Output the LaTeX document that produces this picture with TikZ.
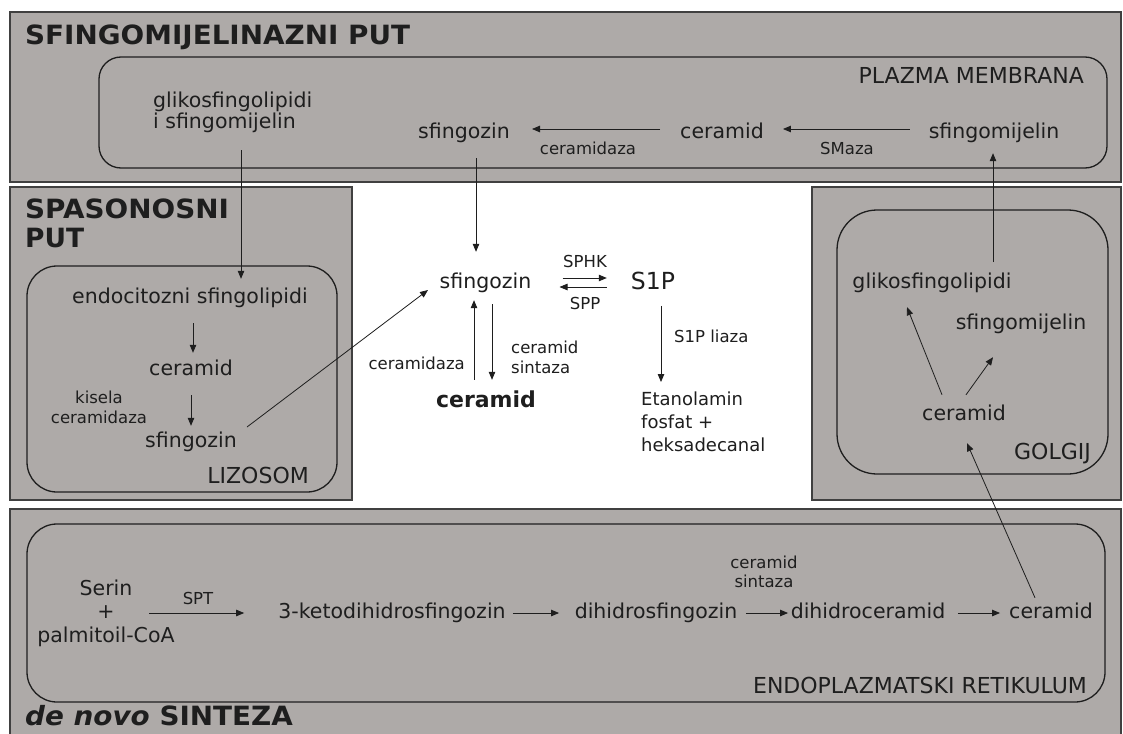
\documentclass[tikz,border=0pt]{standalone}
\usepackage{fontspec}
\setmainfont{DejaVu Sans}
\usetikzlibrary{arrows.meta}
\definecolor{boxgrey}{HTML}{AEAAA8}
\definecolor{ink}{HTML}{1E1E1E}
\tikzset{
 outerbox/.style={draw=ink!85, line width=1.5pt, fill=boxgrey},
 cellbox/.style={draw=ink, line width=1.3pt, rounded corners=22pt},
 txt/.style={font=\fontsize{20.5}{21.5}\selectfont, text=ink, inner sep=1pt, text height=15.5pt, text depth=4.5pt},
 caplabel/.style={font=\fontsize{22}{26}\selectfont, text=ink, inner sep=1pt},
 small/.style={font=\fontsize{16.5}{19.5}\selectfont, text=ink, inner sep=1pt},
 title/.style={font=\fontsize{26.5}{29}\selectfont\bfseries, text=ink, inner sep=0pt, anchor=west},
 arr/.style={-{Triangle[length=8pt,width=6.5pt]}, line width=0.8pt, draw=ink},
}
\begin{document}
\begin{tikzpicture}[x=1pt,y=-1pt]
\useasboundingbox (0,0) rectangle (1123,733);
\fill[white] (0,0) rectangle (1123,733);
% outer boxes
\draw[outerbox] (10,12) rectangle (1121,182);
\draw[outerbox] (10,187) rectangle (352,500);
\draw[outerbox] (812,187) rectangle (1121,500);
\draw[outerbox] (10,509) rectangle (1121,745);
% compartments
\draw[cellbox] (99,57) rectangle (1107,168);
\draw[cellbox, rounded corners=30pt] (27,266) rectangle (337,492);
\draw[cellbox, rounded corners=40pt] (837,210) rectangle (1108,474);
\draw[cellbox, rounded corners=30pt] (27,524) rectangle (1105,702);
% titles
\node[title] (t1) at (25,37) {\scalebox{1.05}[1]{SFINGOMIJELINAZNI PUT}};
\node[title, align=left] (t2) at (25,223.5) {\scalebox{1.05}[1]{SPASONOSNI}\\PUT};
\node[title] (t4) at (25,716) {\scalebox{1.05}[1]{\textit{de novo} SINTEZA}};
% compartment labels
\node[caplabel, anchor=east] (lpm) at (1085,75) {PLAZMA MEMBRANA};
\node[caplabel, anchor=east] (lliz) at (310,475) {LIZOSOM};
\node[caplabel, anchor=east] (lgol) at (1092,454) {GOLGIJ};
\node[caplabel, anchor=east] (ler) at (1088,685) {ENDOPLAZMATSKI RETIKULUM};
% plasma membrane
\node[txt, align=left, anchor=west, text height=, text depth=] (pmgs) at (152,112.5) {glikosfingolipidi\\i sfingomijelin};
\node[txt] (pmsf) at (464,133) {sfingozin};
\node[txt] (pmcer) at (722,133) {ceramid};
\node[txt] (pmsm) at (994,133) {sfingomijelin};
\draw[arr, shorten <=19pt, shorten >=21pt] ([yshift=4pt]pmcer.west) -- ([yshift=4pt]pmsf.east);
\draw[arr, shorten <=18pt, shorten >=18pt] ([yshift=4pt]pmsm.west) -- ([yshift=4pt]pmcer.east);
\node[small] (lcd1) at (588,148) {ceramidaza};
\node[small] (lsma) at (847,148) {SMaza};
% centre
\node[txt] (sf) at (485.5,283) {sfingozin};
\node[font=\fontsize{23.5}{27}\selectfont, text=ink, inner sep=1pt, text height=17.5pt, text depth=5pt] (s1p) at (653,283) {S1P};
\node[font=\fontsize{22}{26}\selectfont\bfseries, text=ink, inner sep=1pt, text height=16pt, text depth=5pt] (cer) at (486,402) {ceramid};
\node[font=\fontsize{18}{23}\selectfont, text=ink, inner sep=1pt, align=left, anchor=north west] (eta) at (640,391) {Etanolamin\\fosfat +\\heksadecanal};
\draw[arr, shorten <=14pt, shorten >=20pt] ([xshift=12pt]pmsf.south) -- ([xshift=12pt]pmsf.south |- sf.north);
\draw[arr] ([xshift=30pt,yshift=5pt]sf.east) -- ([xshift=-23pt,yshift=5pt]s1p.west);
\draw[arr] ([xshift=-23pt,yshift=-4pt]s1p.west) -- ([xshift=27pt,yshift=-4pt]sf.east);
\node[small] (lsphk) at (585,261) {SPHK};
\node[small] (lspp) at (585,303) {SPP};
\draw[arr] ([xshift=-12pt,yshift=10.5pt]cer.north) -- ([xshift=-11.5pt,yshift=-6pt]sf.south);
\draw[arr] ([xshift=6.5pt,yshift=-10pt]sf.south) -- ([xshift=6pt,yshift=10.5pt]cer.north);
\node[small, anchor=east] (lcd2) at (466,363) {ceramidaza};
\node[small, align=left, anchor=west] (lcs1) at (510,357.5) {ceramid\\sintaza};
\draw[arr, shorten <=10.5pt, shorten >=9pt] ([xshift=8pt]s1p.south) -- ([xshift=8pt]s1p.south |- eta.north);
\node[small, anchor=west] (lliaza) at (673,336) {S1P liaza};
% lysosome
\node[txt] (endo) at (190,298) {endocitozni sfingolipidi};
\node[txt] (lcer) at (191,370) {ceramid};
\node[txt] (lsf) at (191,442) {sfingozin};
\node[small, align=center] (lkis) at (99,407.5) {kisela\\ceramidaza};
\draw[arr, shorten <=14pt, shorten >=6pt] ([xshift=2pt]lcer.north |- endo.south) -- ([xshift=2pt]lcer.north);
\draw[arr, shorten <=14pt, shorten >=5pt] (lcer.south) -- (lcer.south |- lsf.north);
\draw[arr] ([xshift=9pt,yshift=15pt]lsf.east) -- ([xshift=-10.5pt,yshift=-7pt]sf.west);
\coordinate (gl) at (241,150);
\draw[arr, shorten >=8pt] (gl) -- (gl |- endo.north);
% golgi
\node[txt] (ggs) at (932,283) {glikosfingolipidi};
\node[txt] (gsm) at (1021,324) {sfingomijelin};
\node[txt] (gcer) at (964,415) {ceramid};
\draw[arr] ([xshift=-22pt,yshift=9pt]gcer.north) -- ([xshift=-25pt,yshift=-13pt]ggs.south);
\draw[arr] ([xshift=2pt,yshift=9pt]gcer.north) -- ([xshift=-28pt,yshift=-22pt]gsm.south);
\coordinate (gtop) at (993,262);
\draw[arr, shorten >=9pt] (gtop) -- (gtop |- pmsm.south);
% ER
\node[txt, align=center, font=\fontsize{20.5}{23.5}\selectfont, text height=, text depth=] (serin) at (106,613) {Serin\\+\\palmitoil-CoA};
\node[txt] (keto) at (392,613) {3-ketodihidrosfingozin};
\node[txt] (dhs) at (656,613) {dihidrosfingozin};
\node[txt] (dhc) at (868,613) {dihidroceramid};
\node[txt] (ercer) at (1051,613) {ceramid};
\draw[arr, shorten >=33pt] ([xshift=-26.5pt]serin.east) -- (keto.west);
\node[small] (lspt) at (198,598) {SPT};
\draw[arr, shorten <=6pt, shorten >=14.5pt] (keto) -- (dhs);
\draw[arr, shorten <=7.5pt, shorten >=1.5pt] (dhs) -- (dhc);
\draw[arr, shorten <=11.5pt, shorten >=8pt] (dhc) -- (ercer);
\node[small, align=center] (lcs2) at (764,572) {ceramid\\sintaza};
\draw[arr] ([xshift=-16pt,yshift=4pt]ercer.north) -- ([xshift=3pt,yshift=-17pt]gcer.south);
\end{tikzpicture}
\end{document}
